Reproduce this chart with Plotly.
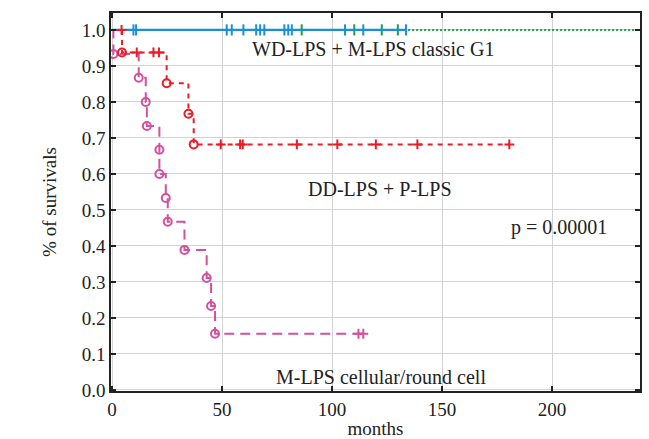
import plotly.graph_objects as go

# ---- data (months, survival fraction) ----
# WD-LPS (blue): no events, censored times
blue_end = 133.6
blue_cens_t = [9.7, 10.9, 52.1, 54.4, 59.7, 65.5, 67.3, 69.2, 78.3, 80.1, 81.7, 105.9, 114.2, 133.6]

# M-LPS classic G1 (green): no events, censored times
green_end = 240
green_cens_t = [86.2, 110.1, 122.6, 129.9]

# DD-LPS + P-LPS (red)
red_event_t = [4.5, 24.8, 34.7, 37.1]
red_event_s = [0.9375, 0.852, 0.767, 0.682]
red_cens_t = [4.3, 11.2, 18.8, 21.3, 49.4, 58.2, 59.4, 84.0, 102.4, 119.9, 138.8, 180.6]
red_end = 180.6

# M-LPS cellular/round cell (magenta)
mag_event_t = [0.6, 12.1, 15.3, 15.8, 21.5, 21.5, 24.4, 25.3, 32.9, 43.0, 45.0, 46.8]
mag_event_s = [0.933, 0.867, 0.800, 0.733, 0.667, 0.600, 0.533, 0.467, 0.389, 0.311, 0.233, 0.156]
mag_cens_t = [112.0, 114.2]
mag_end = 114.2

x_ticks = [0, 50, 100, 150, 200]
y_ticks = [round(i * 0.1, 1) for i in range(11)]

FONT = "Liberation Serif"
TXT = "#222222"
BLUE = "#1a8fd8"
GREEN = "#1e9e4a"
RED = "#ec1c24"
MAG = "#d4509c"


def surv_at(t, ev_t, ev_s):
    s = 1.0
    for et, es in zip(ev_t, ev_s):
        if et <= t:
            s = es
    return s


def step_xy(ev_t, ev_s, end):
    xs = [0] + list(ev_t) + [end]
    ys = [1.0] + list(ev_s) + [ev_s[-1] if ev_s else 1.0]
    return xs, ys


def cross(xs, ys, color):
    return go.Scatter(x=xs, y=ys, mode="markers",
                      marker=dict(symbol="cross-thin", size=7, color=color,
                                  line=dict(color=color, width=2)))


def ticks_ns(xs, ys, color):
    return go.Scatter(x=xs, y=ys, mode="markers",
                      marker=dict(symbol="line-ns", size=8, color=color,
                                  line=dict(color=color, width=2)))


fig = go.Figure()

# green
fig.add_trace(go.Scatter(x=[0, green_end], y=[1.0, 1.0], mode="lines",
                         line=dict(color=GREEN, width=2, dash="2px,2px")))
fig.add_trace(ticks_ns(green_cens_t, [1.0] * len(green_cens_t), GREEN))

# blue
fig.add_trace(go.Scatter(x=[0, blue_end], y=[1.0, 1.0], mode="lines",
                         line=dict(color=BLUE, width=2.2)))
fig.add_trace(ticks_ns(blue_cens_t, [1.0] * len(blue_cens_t), BLUE))

# magenta
mx, my = step_xy(mag_event_t, mag_event_s, mag_end)
fig.add_trace(go.Scatter(x=mx, y=my, mode="lines", line_shape="hv",
                         line=dict(color=MAG, width=2, dash="10px,6px")))
fig.add_trace(go.Scatter(x=mag_event_t, y=mag_event_s, mode="markers",
                         marker=dict(symbol="circle-open", size=8, color=MAG,
                                     line=dict(color=MAG, width=2))))
mcy = [surv_at(t, mag_event_t, mag_event_s) for t in mag_cens_t]
fig.add_trace(cross(mag_cens_t, mcy, MAG))

# red
rx, ry = step_xy(red_event_t, red_event_s, red_end)
fig.add_trace(go.Scatter(x=rx, y=ry, mode="lines", line_shape="hv",
                         line=dict(color=RED, width=2, dash="5px,5px")))
fig.add_trace(go.Scatter(x=red_event_t, y=red_event_s, mode="markers",
                         marker=dict(symbol="circle-open", size=8, color=RED,
                                     line=dict(color=RED, width=2))))
rcy = [surv_at(t, red_event_t, red_event_s) for t in red_cens_t]
fig.add_trace(cross(red_cens_t, rcy, RED))

annots = [
    ("WD-LPS + M-LPS classic G1", 118.6, 0.947),
    ("DD-LPS + P-LPS", 121.8, 0.558),
    ("p = 0.00001", 203.0, 0.45),
    ("M-LPS cellular/round cell", 122.3, 0.036),
]
for txt, ax_, ay_ in annots:
    fig.add_annotation(x=ax_, y=ay_, text=txt, showarrow=False,
                       font=dict(family=FONT, size=20, color=TXT))

axis_common = dict(showline=True, linecolor=TXT, linewidth=1.5, mirror="ticks",
                   ticks="inside", ticklen=5, tickcolor=TXT, tickwidth=1.5,
                   showgrid=True, gridcolor="#d3d3d3", gridwidth=1.2, zeroline=False,
                   automargin=False,
                   tickfont=dict(family=FONT, size=19, color=TXT))

fig.update_xaxes(range=[-0.5, 240], tickvals=x_ticks, ticktext=[str(v) for v in x_ticks],
                 title=dict(text="months", font=dict(family=FONT, size=19, color=TXT), standoff=4),
                 **axis_common)
fig.update_yaxes(range=[-0.003, 1.047], tickvals=y_ticks, ticktext=[f"{v:.1f}" for v in y_ticks],
                 title=dict(text="% of survivals", font=dict(family=FONT, size=19, color=TXT), standoff=20),
                 **axis_common)

fig.update_layout(width=649, height=439, margin=dict(l=111, r=9, t=13, b=48),
                  paper_bgcolor="white", plot_bgcolor="white", showlegend=False)

fig.write_html("out.html")
